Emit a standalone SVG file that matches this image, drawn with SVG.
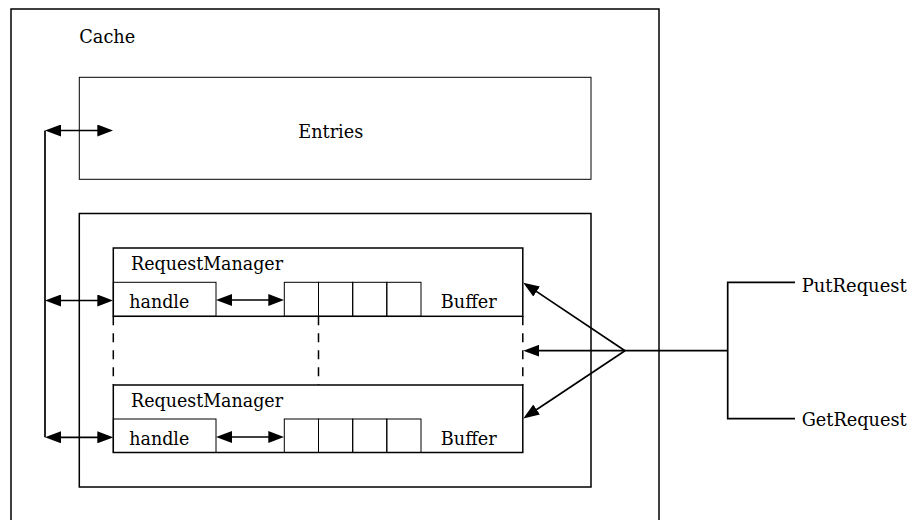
<svg xmlns="http://www.w3.org/2000/svg" width="911" height="520" viewBox="0 0 911 520">
  <style>
    .box { fill: none; stroke: #000; stroke-width: 1.5; }
    .thin { fill: none; stroke: #000; stroke-width: 1.0; }
    .wire { fill: none; stroke: #000; stroke-width: 1.7; }
    .dash { fill: none; stroke: #000; stroke-width: 1.5; stroke-dasharray: 9 8; }
    text { font-family: "DejaVu Serif", "Liberation Serif", serif; font-size: 18px; fill: #000; }
  </style>
  <defs>
    <marker id="head" viewBox="0 0 16 12" markerWidth="16" markerHeight="12" refX="12" refY="6" markerUnits="userSpaceOnUse" orient="auto-start-reverse">
      <path d="M0,0 L16,6 L0,12 Z" fill="#000"/>
    </marker>
  </defs>
  <rect width="911" height="520" fill="#fff"/>

  <!-- outer cache container -->
  <g id="cache">
    <rect class="box" x="11" y="9" width="648" height="530"/>
    <text x="79.3" y="42.7" textLength="56" lengthAdjust="spacingAndGlyphs">Cache</text>
  </g>

  <g id="entries">
    <rect class="thin" x="79.3" y="77.3" width="511.7" height="102"/>
    <text x="298.3" y="138.3" textLength="65" lengthAdjust="spacingAndGlyphs">Entries</text>
  </g>

  <g id="managers">
    <rect class="box" x="79.3" y="213.5" width="511.7" height="273.5"/>
  </g>

  <!-- first request manager -->
  <g id="rm1">
    <rect class="box" x="113.3" y="248" width="409.5" height="68.3"/>
    <text x="131" y="270" textLength="152" lengthAdjust="spacingAndGlyphs">RequestManager</text>
    <g id="rm1-handle">
      <rect class="thin" x="113.3" y="282.3" width="102.7" height="34"/>
      <text x="129.3" y="308" textLength="60" lengthAdjust="spacingAndGlyphs">handle</text>
    </g>
    <g id="rm1-buffer">
      <rect class="thin" x="284.3" y="282.3" width="34.2" height="34"/>
      <rect class="thin" x="318.5" y="282.3" width="34.2" height="34"/>
      <rect class="thin" x="352.7" y="282.3" width="34.1" height="34"/>
      <rect class="thin" x="386.8" y="282.3" width="34.2" height="34"/>
      <text x="440.7" y="308" textLength="56" lengthAdjust="spacingAndGlyphs">Buffer</text>
    </g>
  </g>

  <!-- second request manager -->
  <g id="rm2">
    <rect class="box" x="113.3" y="385" width="409.5" height="67.5"/>
    <text x="131" y="407" textLength="152" lengthAdjust="spacingAndGlyphs">RequestManager</text>
    <g id="rm2-handle">
      <rect class="thin" x="113.3" y="419" width="102.7" height="33.5"/>
      <text x="129.3" y="445" textLength="60" lengthAdjust="spacingAndGlyphs">handle</text>
    </g>
    <g id="rm2-buffer">
      <rect class="thin" x="284.3" y="419" width="34.2" height="33.5"/>
      <rect class="thin" x="318.5" y="419" width="34.2" height="33.5"/>
      <rect class="thin" x="352.7" y="419" width="34.1" height="33.5"/>
      <rect class="thin" x="386.8" y="419" width="34.2" height="33.5"/>
      <text x="440.7" y="445" textLength="56" lengthAdjust="spacingAndGlyphs">Buffer</text>
    </g>
  </g>

  <!-- elided managers in between -->
  <g id="ellipsis">
    <line class="dash" x1="113.3" y1="316.3" x2="113.3" y2="385"/>
    <line class="dash" x1="318.5" y1="316.3" x2="318.5" y2="385"/>
    <line class="dash" x1="522.8" y1="316.3" x2="522.8" y2="385"/>
  </g>

  <g id="put-request">
    <text x="801.7" y="291.7" textLength="105" lengthAdjust="spacingAndGlyphs">PutRequest</text>
  </g>
  <g id="get-request">
    <text x="801.7" y="425.7" textLength="105" lengthAdjust="spacingAndGlyphs">GetRequest</text>
  </g>

  <g id="connectors">
    <!-- left bus -->
    <line class="wire" x1="45" y1="130.5" x2="45" y2="437.3"/>
    <line class="wire" x1="49" y1="130.5" x2="109.3" y2="130.5" marker-start="url(#head)" marker-end="url(#head)"/>
    <line class="wire" x1="49" y1="300.5" x2="109.3" y2="300.5" marker-start="url(#head)" marker-end="url(#head)"/>
    <line class="wire" x1="49" y1="437.3" x2="109.3" y2="437.3" marker-start="url(#head)" marker-end="url(#head)"/>
    <!-- handle to buffer -->
    <line class="wire" x1="220" y1="300" x2="280.3" y2="300" marker-start="url(#head)" marker-end="url(#head)"/>
    <line class="wire" x1="220" y1="437" x2="280.3" y2="437" marker-start="url(#head)" marker-end="url(#head)"/>
    <!-- request fan-in -->
    <line class="wire" x1="625" y1="350.7" x2="526.6" y2="284.9" marker-end="url(#head)"/>
    <line class="wire" x1="625" y1="350.7" x2="527.3" y2="350.7" marker-end="url(#head)"/>
    <line class="wire" x1="625" y1="350.7" x2="526.6" y2="416.2" marker-end="url(#head)"/>
    <polyline class="wire" points="625,350.7 727.7,350.7"/>
    <polyline class="wire" points="795,282.3 727.7,282.3 727.7,418.6 795,418.6"/>
  </g>
</svg>
